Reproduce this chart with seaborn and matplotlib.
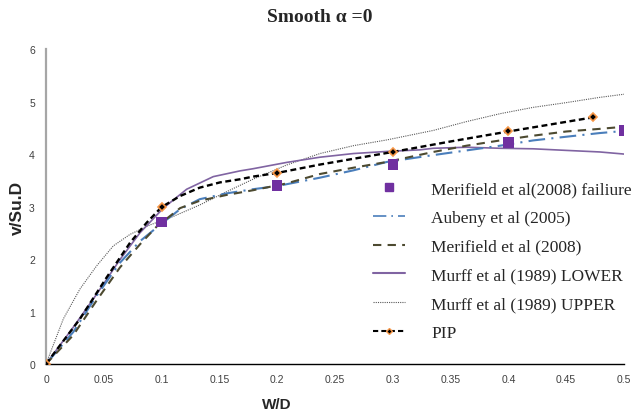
import matplotlib
matplotlib.use("Agg")
import matplotlib.pyplot as plt
import seaborn as sns
from matplotlib.lines import Line2D

# Merifield et al (2008) failure points
fail_x = [0.1, 0.2, 0.3, 0.4, 0.5]
fail_y = [2.71, 3.40, 3.80, 4.22, 4.45]

# Aubeny et al (2005)
aub_x = [0, 0.0236, 0.0438, 0.064, 0.0813, 0.0986, 0.116, 0.133, 0.156, 0.179, 0.2,
         0.237, 0.266, 0.295, 0.335, 0.364, 0.393, 0.4215, 0.45, 0.479, 0.5]
aub_y = [0, 0.61, 1.30, 1.93, 2.34, 2.65, 2.95, 3.14, 3.25, 3.33, 3.39,
         3.55, 3.69, 3.85, 3.98, 4.07, 4.16, 4.26, 4.33, 4.40, 4.44]

# Merifield et al (2008)
mer_x = [0, 0.0236, 0.0438, 0.064, 0.0813, 0.0958, 0.116, 0.133, 0.156, 0.179, 0.208,
         0.237, 0.266, 0.295, 0.335, 0.364, 0.393, 0.4215, 0.45, 0.479, 0.5]
mer_y = [0, 0.55, 1.21, 1.84, 2.28, 2.62, 2.97, 3.11, 3.22, 3.31, 3.44,
         3.62, 3.74, 3.85, 4.04, 4.16, 4.26, 4.35, 4.43, 4.48, 4.52]

# Murff et al (1989) LOWER
low_x = [0, 0.0236, 0.0438, 0.064, 0.0813, 0.1015, 0.1217, 0.1447, 0.168, 0.179, 0.208,
         0.237, 0.266, 0.295, 0.3235, 0.335, 0.364, 0.393, 0.4215, 0.45, 0.479, 0.5]
low_y = [0, 0.70, 1.33, 1.99, 2.50, 2.97, 3.33, 3.57, 3.68, 3.72, 3.84,
         3.94, 4.01, 4.05, 4.08, 4.11, 4.13, 4.11, 4.10, 4.07, 4.04, 4.00]

# Murff et al (1989) UPPER
up_x = [0, 0.015, 0.0294, 0.0438, 0.0582, 0.0727, 0.09, 0.11, 0.133, 0.156, 0.179,
        0.208, 0.237, 0.266, 0.295, 0.335, 0.364, 0.393, 0.4215, 0.45, 0.479, 0.5]
up_y = [0, 0.86, 1.43, 1.87, 2.25, 2.47, 2.65, 2.81, 3.03, 3.28, 3.52,
        3.79, 4.01, 4.16, 4.27, 4.45, 4.62, 4.77, 4.89, 4.98, 5.08, 5.14]

# PIP curve and its data points
pip_line_x = [0, 0.0294, 0.0525, 0.0727, 0.087, 0.1, 0.116, 0.133, 0.1505, 0.168, 0.179,
              0.2, 0.237, 0.266, 0.3, 0.35, 0.4, 0.4735]
pip_line_y = [0, 0.86, 1.65, 2.31, 2.69, 2.99, 3.20, 3.36, 3.46, 3.52, 3.57,
              3.64, 3.80, 3.91, 4.04, 4.24, 4.43, 4.70]
pip_x = [0, 0.1, 0.2, 0.3, 0.4, 0.4735]
pip_y = [0, 2.99, 3.64, 4.04, 4.43, 4.70]

sns.set_style("white")
plt.rcParams["font.family"] = ["Liberation Sans", "DejaVu Sans"]

fig = plt.figure(figsize=(6.32, 4.14), dpi=100)
ax = fig.add_axes([0.0728, 0.1184, 0.9145, 0.7606])

sns.lineplot(x=up_x, y=up_y, ax=ax, color="#595959", linestyle=(0, (1, 1)), linewidth=0.8, sort=False)
sns.lineplot(x=low_x, y=low_y, ax=ax, color="#8064a2", linewidth=1.2, sort=False)
sns.lineplot(x=aub_x, y=aub_y, ax=ax, color="#4a7ebb", linestyle=(0, (8, 3, 1, 3)), linewidth=1.5, sort=False)
sns.lineplot(x=mer_x, y=mer_y, ax=ax, color="#4d4a30", linestyle=(0, (4, 3)), linewidth=1.5, sort=False)
sns.lineplot(x=pip_line_x, y=pip_line_y, ax=ax, color="black", linestyle=(0, (2.5, 1.5)), linewidth=1.7, sort=False)
ax.plot(pip_x, pip_y, linestyle="none", marker="D", markersize=4,
        markerfacecolor="black", markeredgecolor="#f79646", markeredgewidth=1.2, zorder=5)
sns.scatterplot(x=fail_x, y=fail_y, ax=ax, color="#7030a0", marker="s", s=55,
                edgecolor="none", zorder=6)

ax.set_xlim(0, 0.5)
ax.set_ylim(0, 6)
ax.set_xticks([0, 0.05, 0.1, 0.15, 0.2, 0.25, 0.3, 0.35, 0.4, 0.45, 0.5])
ax.set_xticklabels(["0", "0.05", "0.1", "0.15", "0.2", "0.25", "0.3", "0.35", "0.4", "0.45", "0.5"])
ax.set_yticks([0, 1, 2, 3, 4, 5, 6])
ax.tick_params(axis="both", labelsize=7.5, labelcolor="#404040", length=3, width=0.8)
ax.tick_params(axis="x", direction="out", color="black", pad=4)
ax.tick_params(axis="y", direction="out", color="#a6a6a6", pad=5)

for s in ["top", "right"]:
    ax.spines[s].set_visible(False)
ax.spines["left"].set_color("#a6a6a6")
ax.spines["left"].set_linewidth(1.6)
ax.spines["bottom"].set_color("black")
ax.spines["bottom"].set_linewidth(1.0)

ax.set_xlabel("W/D", fontsize=11, fontweight="bold")
ax.xaxis.set_label_coords(0.40, -0.105)
ax.set_ylabel("v/Su.D", fontsize=12.5, fontweight="bold")
ax.yaxis.set_label_coords(-0.037, 0.5)

fig.text(0.506, 0.958, "Smooth \u03b1 =0", ha="center", va="center",
         fontsize=14, fontweight="bold", family="Liberation Serif")

handles = [
    Line2D([], [], linestyle="none", marker="s", markersize=6, color="#7030a0"),
    Line2D([], [], color="#4a7ebb", linestyle=(0, (8, 3, 1, 3)), linewidth=1.2),
    Line2D([], [], color="#4d4a30", linestyle=(0, (4, 3)), linewidth=1.5),
    Line2D([], [], color="#8064a2", linewidth=1.5),
    Line2D([], [], color="#595959", linestyle=(0, (1, 1)), linewidth=0.8),
    Line2D([], [], color="black", linestyle=(0, (2.5, 1.5)), linewidth=1.5, marker="D",
           markersize=3, markerfacecolor="black", markeredgecolor="#f79646", markevery=[1]),
]
labels = ["Merifield et al(2008) failiure", "Aubeny et al (2005)", "Merifield et al (2008)",
          "Murff et al (1989) LOWER", "Murff et al (1989) UPPER", "PIP"]
ax.legend(handles, labels, loc="upper left", bbox_to_anchor=(0.566, 0.58), frameon=False,
          prop={"family": "Liberation Serif", "size": 12.5}, handlelength=1.85,
          handletextpad=1.5, labelspacing=0.72, borderpad=0, borderaxespad=0)

fig.savefig("out.png", dpi=100)
